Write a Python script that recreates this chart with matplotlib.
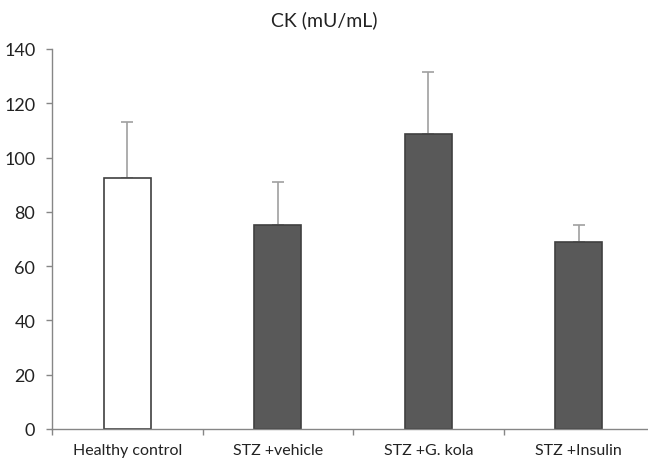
import matplotlib
matplotlib.use("Agg")
import matplotlib.pyplot as plt
import numpy as np

categories = ["Healthy control", "STZ +vehicle", "STZ +G. kola", "STZ +Insulin"]
values = [92.6, 75.2, 108.6, 69.0]
errors = [20.5, 15.8, 23.1, 6.3]
bar_colors = ["#ffffff", "#595959", "#595959", "#595959"]
title = "CK (mU/mL)"
yticks = [0, 20, 40, 60, 80, 100, 120, 140]

plt.rcParams['font.family'] = ['Lato', 'DejaVu Sans']

fig = plt.figure(figsize=(6.48, 4.64), dpi=100)
ax = fig.add_axes([52/648, 34/464, 602/648, 380/464])
x = np.arange(len(categories))
ax.bar(x, values, width=0.31, color=bar_colors, edgecolor="#404040", linewidth=1.2, zorder=2)
ax.errorbar(x, values, yerr=[np.zeros(len(errors)), errors], fmt="none",
            ecolor="#a0a0a0", elinewidth=1.2, capsize=4, capthick=1.2, zorder=1)
ax.set_xlim(-0.5, len(categories) - 0.5)
ax.set_ylim(0, 140)
ax.set_yticks(yticks)
ax.set_xticks(x)
ax.set_xticklabels(categories, fontsize=11.5, color="#222222")
ax.tick_params(axis="x", length=0, pad=10)
ax.set_xticks(np.arange(-0.5, len(categories)), minor=True)
ax.tick_params(axis="x", which="minor", length=4, color="#868686", width=1)
ax.tick_params(axis="y", length=4, color="#868686", width=1, labelsize=13, labelcolor="#222222", pad=8)
for s in ["top", "right"]:
    ax.spines[s].set_visible(False)
for s in ["left", "bottom"]:
    ax.spines[s].set_color("#868686")
    ax.spines[s].set_linewidth(1)
fig.text(0.5, 1 - 20/464, title, ha="center", va="center", fontsize=14, color="#222222")
fig.savefig("out.png", dpi=100)
